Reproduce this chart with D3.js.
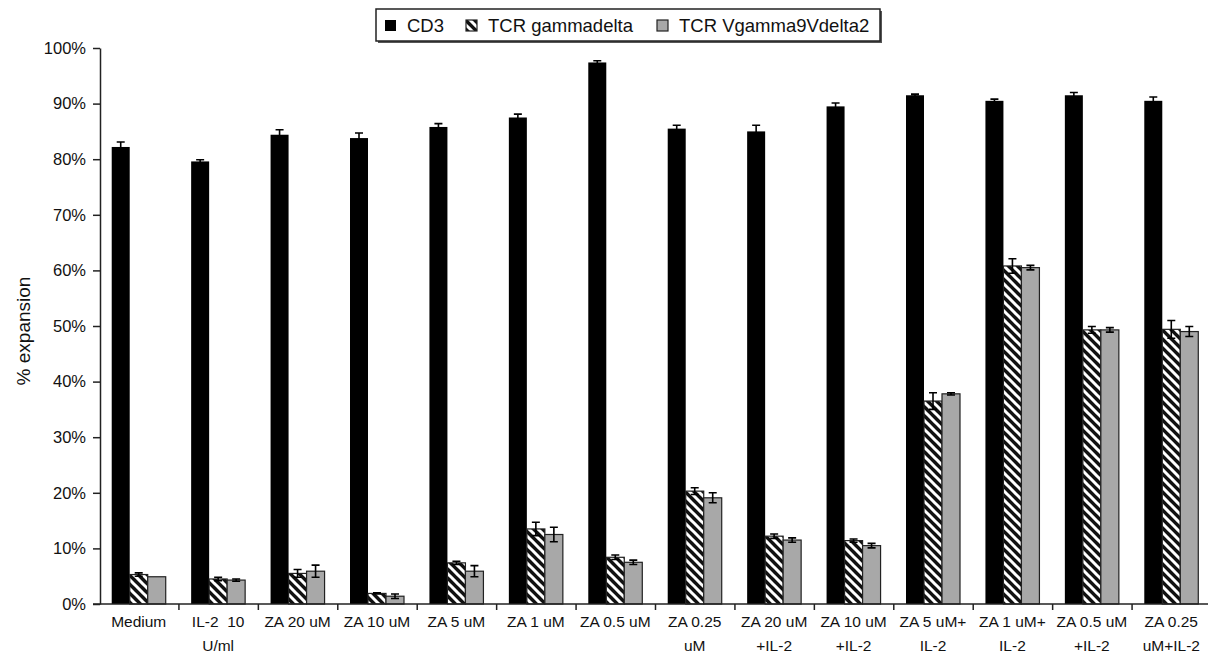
<!DOCTYPE html>
<html>
<head>
<meta charset="utf-8">
<script src="https://cdn.jsdelivr.net/npm/d3@7"></script>
<style>
  body { margin: 0; background: #fff; }
  text { font-family: "Liberation Sans", Arial, sans-serif; fill: #111; }
</style>
</head>
<body>
<div id="chart"></div>
<script>
// categories, one array of text lines per group
var categories = [
  ["Medium"], ["IL-2  10", "U/ml"], ["ZA 20 uM"], ["ZA 10 uM"], ["ZA 5 uM"],
  ["ZA 1 uM"], ["ZA 0.5 uM"], ["ZA 0.25", "uM"], ["ZA 20 uM", "+IL-2"],
  ["ZA 10 uM", "+IL-2"], ["ZA 5 uM+", "IL-2"], ["ZA 1 uM+", "IL-2"],
  ["ZA 0.5 uM", "+IL-2"], ["ZA 0.25", "uM+IL-2"]
];
var seriesNames = ["CD3", "TCR gammadelta", "TCR Vgamma9Vdelta2"];

// values in %
var cd3      = [82.2, 79.6, 84.4, 83.8, 85.8, 87.5, 97.4, 85.5, 85.0, 89.5, 91.5, 90.5, 91.5, 90.5];
var cd3Err   = [0.9, 0.3, 0.9, 0.9, 0.6, 0.6, 0.3, 0.6, 1.1, 0.6, 0.2, 0.3, 0.5, 0.7];
var gd       = [5.3, 4.5, 5.5, 1.9, 7.4, 13.5, 8.4, 20.3, 12.2, 11.4, 36.5, 60.8, 49.3, 49.4];
var gdErr    = [0.3, 0.3, 0.7, 0.1, 0.3, 1.2, 0.4, 0.6, 0.4, 0.3, 1.5, 1.3, 0.6, 1.6];
var vg9      = [4.9, 4.3, 5.9, 1.4, 5.9, 12.5, 7.5, 19.1, 11.5, 10.5, 37.8, 60.5, 49.3, 49.0];
var vg9Err   = [0.0, 0.2, 1.1, 0.4, 1.0, 1.3, 0.4, 0.9, 0.4, 0.4, 0.2, 0.4, 0.4, 0.9];

var yTicks = [0, 10, 20, 30, 40, 50, 60, 70, 80, 90, 100];

var width = 1208, height = 653;
var x0 = 99, x1 = 1211, yTop = 48, yBot = 604;

var svg = d3.select("#chart").append("svg")
  .attr("width", width).attr("height", height);

// hatch pattern: black with white "\" stripes
var defs = svg.append("defs");
var pat = defs.append("pattern")
  .attr("id", "hatch")
  .attr("patternUnits", "userSpaceOnUse")
  .attr("width", 9).attr("height", 9);
pat.append("rect").attr("width", 9).attr("height", 9).attr("fill", "#111");
pat.append("path")
  .attr("d", "M0,0L9,9M-2,7L2,11M7,-2L11,2")
  .attr("stroke", "#fff").attr("stroke-width", 3);

var fills = ["#000", "url(#hatch)", "#a8a8a8"];

var xScale = d3.scaleBand()
  .domain(d3.range(categories.length))
  .range([x0, x1]);

var inner = d3.scaleBand()
  .domain([0, 1, 2])
  .range([0, 54])
  .padding(0);

var groupOffset = (xScale.bandwidth() - 54) / 2;

var yScale = d3.scaleLinear().domain([0, 100]).range([yBot, yTop]);

// rows for bars
var rows = [];
categories.forEach(function(c, i) {
  rows.push({ i: i, s: 0, v: cd3[i], e: cd3Err[i] });
  rows.push({ i: i, s: 1, v: gd[i], e: gdErr[i] });
  rows.push({ i: i, s: 2, v: vg9[i], e: vg9Err[i] });
});

svg.append("g").selectAll("rect")
  .data(rows)
  .enter()
  .append("rect")
  .attr("x", function(d) { return xScale(d.i) + groupOffset + inner(d.s); })
  .attr("y", function(d) { return yScale(d.v); })
  .attr("width", inner.bandwidth())
  .attr("height", function(d) { return yBot - yScale(d.v); })
  .attr("fill", function(d) { return fills[d.s]; })
  .attr("stroke", function(d) { return d.s === 0 ? "none" : "#222"; })
  .attr("stroke-width", 1.2);

// error bars
var err = svg.append("g")
  .attr("stroke", "#000")
  .attr("stroke-width", 1.6)
  .attr("fill", "none");

err.selectAll("path")
  .data(rows.filter(function(d) { return d.e > 0; }))
  .enter()
  .append("path")
  .attr("d", function(d) {
    var cx = xScale(d.i) + groupOffset + inner(d.s) + inner.bandwidth() / 2;
    var hi = yScale(d.v + d.e), lo = yScale(d.v - d.e);
    return "M" + cx + "," + hi + "V" + lo +
      "M" + (cx - 4) + "," + hi + "H" + (cx + 4) +
      "M" + (cx - 4) + "," + lo + "H" + (cx + 4);
  });

// y axis
var yAxis = d3.axisLeft(yScale)
  .tickValues(yTicks)
  .tickSize(7)
  .tickSizeOuter(0)
  .tickPadding(7)
  .tickFormat(function(d) { return d + "%"; });

var gy = svg.append("g")
  .attr("transform", "translate(" + (x0 + 1) + ",0)")
  .call(yAxis);
gy.selectAll("path, line").attr("stroke", "#222").attr("stroke-width", 1.5);
gy.selectAll("text")
  .style("font-family", "'Liberation Sans', Arial, sans-serif")
  .style("font-size", "16.5px").attr("fill", "#111");

// x axis with ticks at group boundaries
var xLin = d3.scaleLinear().domain([0, categories.length]).range([x0, x1]);
var gx = svg.append("g")
  .attr("transform", "translate(0," + yBot + ")")
  .call(d3.axisBottom(xLin).tickValues(d3.range(1, categories.length + 1))
    .tickSize(6).tickSizeOuter(0).tickFormat(""));
gx.select(".domain").attr("d", "M" + (x0 - 6) + ",0H" + width);
gx.selectAll("path, line").attr("stroke", "#222").attr("stroke-width", 1.5);

// category labels
var labels = svg.append("g")
  .attr("font-size", "15.5px")
  .attr("text-anchor", "middle");
labels.selectAll("text")
  .data(categories)
  .enter()
  .append("text")
  .attr("x", function(d, i) { return xScale(i) + xScale.bandwidth() / 2; })
  .attr("y", 627)
  .style("white-space", "pre")
  .each(function(lines) {
    var t = d3.select(this);
    lines.forEach(function(l, k) {
      t.append("tspan")
        .attr("x", t.attr("x"))
        .attr("dy", k === 0 ? 0 : 24)
        .text(l);
    });
  });

// y title
svg.append("text")
  .attr("transform", "translate(30,331)rotate(-90)")
  .attr("text-anchor", "middle")
  .attr("font-size", "19px")
  .text("% expansion");

// legend (with a small drop shadow)
var legend = svg.append("g");
legend.append("rect")
  .attr("x", 378).attr("y", 11)
  .attr("width", 504).attr("height", 32)
  .attr("fill", "#555");
legend.append("rect")
  .attr("x", 376).attr("y", 9)
  .attr("width", 504).attr("height", 32)
  .attr("fill", "#fff").attr("stroke", "#222").attr("stroke-width", 1.5);

var legendX = [385, 466, 657];
seriesNames.forEach(function(name, k) {
  legend.append("rect")
    .attr("x", legendX[k]).attr("y", 20)
    .attr("width", 11).attr("height", 11)
    .attr("fill", fills[k])
    .attr("stroke", k === 0 ? "none" : "#222")
    .attr("stroke-width", 1.2);
  legend.append("text")
    .attr("x", legendX[k] + 22).attr("y", 32)
    .attr("font-size", "18.5px")
    .text(name);
});
</script>
</body>
</html>
